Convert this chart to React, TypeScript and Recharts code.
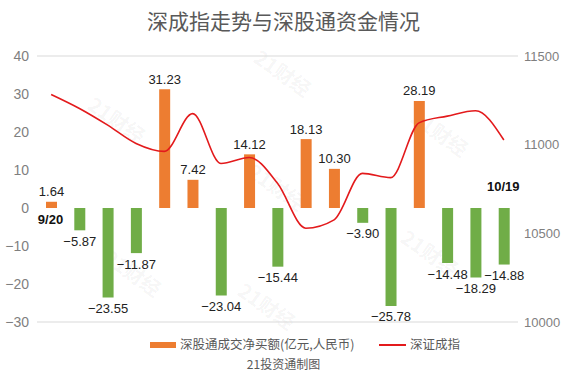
import React from "react";
import {
  ComposedChart,
  Bar,
  Line,
  XAxis,
  YAxis,
  CartesianGrid,
  Cell,
  LabelList,
} from "recharts";

const dates = [
  "9/20", "9/21", "9/24", "9/25", "9/26", "9/27", "9/28", "10/8", "10/9",
  "10/10", "10/11", "10/12", "10/15", "10/16", "10/17", "10/18", "10/19",
];
// 深股通成交净买额(亿元,人民币)
const netBuy = [
  1.64, -5.87, -23.55, -11.87, 31.23, 7.42, -23.04, 14.12, -15.44, 18.13,
  10.3, -3.9, -25.78, 28.19, -14.48, -18.29, -14.88,
];
// 深证成指
const szIndex = [
  11283, 11204, 11110, 11007, 10962, 11175, 10894, 10928, 10782, 10529,
  10576, 10838, 10814, 11123, 11161, 11191, 11026,
];
const leftTicks = [-30, -20, -10, 0, 10, 20, 30, 40];
const rightTicks = [10000, 10500, 11000, 11500];

const data = dates.map((d, i) => ({ date: d, flow: netBuy[i], index: szIndex[i] }));

const ORANGE = "#ED7D31";
const GREEN = "#70AD47";
const RED = "#E31A1C";
const FONT = "'Liberation Sans', Arial, 'Noto Sans CJK SC', sans-serif";
const CJK = "'Noto Sans CJK SC', 'Liberation Sans', sans-serif";

const fmt = (v: number) => (v < 0 ? "\u2212" + Math.abs(v) : String(v));

const BarLabel = (props: any) => {
  const vb = props.viewBox || props;
  const x = Number(vb.x ?? props.x);
  const y = Number(vb.y ?? props.y);
  const w = Number(vb.width ?? props.width);
  const h = Number(vb.height ?? props.height);
  const idx = props.index;
  const v = netBuy[idx];
  const top = Math.min(y, y + h);
  const bottom = Math.max(y, y + h);
  const cx = x + w / 2;
  const txt = (v < 0 ? "\u2212" : "") + Math.abs(v).toFixed(2);
  const out: React.ReactNode[] = [];
  out.push(
    <text key="v" x={cx} y={v >= 0 ? top - 10 : bottom + 11} textAnchor="middle" dominantBaseline="central" fontSize={13} fill="#222" fontFamily={FONT}>
      {txt}
    </text>
  );
  if (idx === 0 || idx === dates.length - 1) {
    const zeroY = v >= 0 ? bottom : top;
    out.push(
      <text key="d" x={cx - 1} y={v >= 0 ? zeroY + 11 : zeroY - 22} textAnchor="middle" dominantBaseline="central" fontSize={13} fontWeight="bold" fill="#111" fontFamily={FONT}>
        {dates[idx]}
      </text>
    );
  }
  return <g>{out}</g>;
};

// faint "21财经" watermarks
const marks = [
  [117, 120], [133, 273], [283, 73], [277, 187], [267, 306], [440, 133], [430, 253],
];

const legendText: React.CSSProperties = {
  position: "absolute",
  top: 0,
  fontFamily: CJK,
  fontSize: 12.5,
  color: "#595959",
  lineHeight: "16px",
  whiteSpace: "nowrap",
};

export default function App() {
  return (
    <div style={{ position: "absolute", left: 0, top: 0, width: 567, height: 376, background: "#fff" }}>
      <div
        style={{
          position: "absolute",
          top: 6,
          left: 0,
          width: 567,
          textAlign: "center",
          fontFamily: CJK,
          fontSize: 21,
          color: "#595959",
          lineHeight: "28px",
        }}
      >
        深成指走势与深股通资金情况
      </div>
      {marks.map(([x, y], i) => (
        <div
          key={i}
          style={{
            position: "absolute",
            left: x - 33,
            top: y - 10,
            width: 66,
            textAlign: "center",
            transform: "rotate(35deg)",
            fontFamily: CJK,
            fontWeight: "bold",
            fontSize: 20,
            lineHeight: "20px",
            color: "rgba(0,0,0,0.05)",
            pointerEvents: "none",
          }}
        >
          21财经
        </div>
      ))}
      <ComposedChart
        width={567}
        height={376}
        data={data}
        margin={{ top: 56, right: 0, bottom: 54, left: 0 }}
        barCategoryGap={0}
      >
        <CartesianGrid vertical={false} stroke="#D9D9D9" />
        <XAxis dataKey="date" hide />
        <YAxis
          yAxisId="left"
          orientation="left"
          width={37}
          domain={[-30, 40]}
          ticks={leftTicks}
          tickFormatter={fmt}
          axisLine={false}
          tickLine={false}
          tick={{ fontSize: 14, fill: "#7F7F7F", fontFamily: FONT }}
        />
        <YAxis
          yAxisId="right"
          orientation="right"
          width={49}
          domain={[10000, 11500]}
          ticks={rightTicks}
          axisLine={false}
          tickLine={false}
          tickMargin={0}
          tick={{ fontSize: 13, fill: "#7F7F7F", fontFamily: FONT }}
        />
        <Bar yAxisId="left" dataKey="flow" barSize={11} isAnimationActive={false}>
          {data.map((d, i) => (
            <Cell key={i} fill={d.flow >= 0 ? ORANGE : GREEN} />
          ))}
          <LabelList dataKey="flow" content={BarLabel} />
        </Bar>
        <Line
          yAxisId="right"
          type="monotone"
          dataKey="index"
          stroke={RED}
          strokeWidth={1.6}
          dot={false}
          isAnimationActive={false}
        />
      </ComposedChart>
      <div style={{ position: "absolute", left: 0, top: 336, width: 567, height: 40 }}>
        <span style={{ position: "absolute", left: 150, top: 6, width: 26, height: 6, background: ORANGE }} />
        <span style={{ ...legendText, left: 180 }}>深股通成交净买额(亿元,人民币)</span>
        <span style={{ position: "absolute", left: 379, top: 8, width: 27, height: 2, background: RED }} />
        <span style={{ ...legendText, left: 410 }}>深证成指</span>
        <div style={{ ...legendText, top: 20, left: 0, width: 567, textAlign: "center", fontSize: 12 }}>21投资通制图</div>
      </div>
    </div>
  );
}
